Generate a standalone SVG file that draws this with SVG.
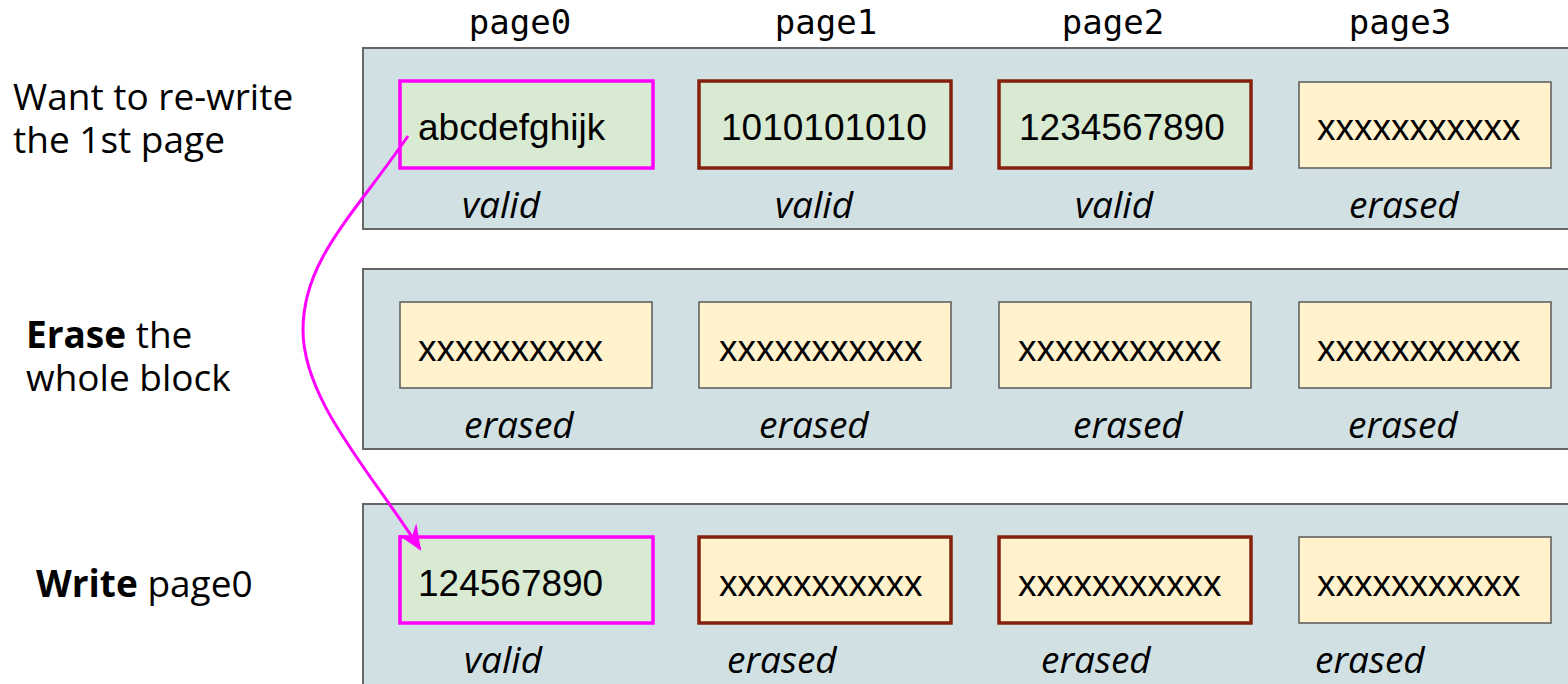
<svg xmlns="http://www.w3.org/2000/svg" width="1568" height="684" viewBox="0 0 1568 684">
<style>
.blk{fill:#d0e0e3;stroke:#666666;stroke-width:2}
.g{fill:#d9ead3}
.y{fill:#fff2cc}
.pk{stroke:#ff00ff;stroke-width:3.5}
.br{stroke:#85200c;stroke-width:3.5}
.gr{stroke:#595959;stroke-width:1.5}
.pt{font-family:"Liberation Sans",Arial,sans-serif;font-size:37px;fill:#000}
.st{font-family:"Open Sans",sans-serif;font-style:italic;font-size:37px;fill:#000}
.hd{font-family:"DejaVu Sans Mono",monospace;font-size:34px;fill:#000}
.lb{font-family:"Open Sans",sans-serif;font-size:37px;fill:#000}
.conn{fill:none;stroke:#ff00ff;stroke-width:3}
</style>
<defs>
<marker id="ah" markerUnits="userSpaceOnUse" markerWidth="30" markerHeight="30" refX="0" refY="0" viewBox="-24 -12 28 24" orient="auto">
<path d="M2,0 L-22,-10 L-14,0 L-22,10 Z" fill="#ff00ff"/>
</marker>
</defs>
<rect width="1568" height="684" fill="#ffffff"/>
<g id="headers">
<text class="hd" x="520" y="34" text-anchor="middle">page0</text>
<text class="hd" x="826" y="34" text-anchor="middle">page1</text>
<text class="hd" x="1113" y="34" text-anchor="middle">page2</text>
<text class="hd" x="1400" y="34" text-anchor="middle">page3</text>
</g>
<g id="labels">
<text class="lb" x="13" y="110">Want to re-write</text>
<text class="lb" x="13" y="153">the 1st page</text>
<text class="lb" x="26" y="348"><tspan font-weight="bold">Erase</tspan> the</text>
<text class="lb" x="26" y="391">whole block</text>
<text class="lb" x="36" y="597"><tspan font-weight="bold">Write</tspan> page0</text>
</g>
<g id="block1">
<rect class="blk" x="363" y="48" width="1220" height="181"/>
<g id="b1p0"><rect class="g pk" x="400" y="81" width="253" height="87"/><text class="pt" x="418" y="140">abcdefghijk</text><text class="st" x="462" y="218">valid</text></g>
<g id="b1p1"><rect class="g br" x="699" y="81" width="252" height="87"/><text class="pt" x="721" y="140">1010101010</text><text class="st" x="775" y="218">valid</text></g>
<g id="b1p2"><rect class="g br" x="999" y="81" width="252" height="87"/><text class="pt" x="1019" y="140">1234567890</text><text class="st" x="1075" y="218">valid</text></g>
<g id="b1p3"><rect class="y gr" x="1299" y="82" width="252" height="86"/><text class="pt" x="1317" y="140">xxxxxxxxxxx</text><text class="st" x="1349" y="218">erased</text></g>
</g>
<g id="block2">
<rect class="blk" x="363" y="269" width="1220" height="180"/>
<g id="b2p0"><rect class="y gr" x="400" y="302" width="252" height="86"/><text class="pt" x="418" y="361">xxxxxxxxxx</text><text class="st" x="464" y="438">erased</text></g>
<g id="b2p1"><rect class="y gr" x="699" y="302" width="252" height="86"/><text class="pt" x="719" y="361">xxxxxxxxxxx</text><text class="st" x="759" y="438">erased</text></g>
<g id="b2p2"><rect class="y gr" x="999" y="302" width="252" height="86"/><text class="pt" x="1018" y="361">xxxxxxxxxxx</text><text class="st" x="1073" y="438">erased</text></g>
<g id="b2p3"><rect class="y gr" x="1299" y="302" width="252" height="86"/><text class="pt" x="1317" y="361">xxxxxxxxxxx</text><text class="st" x="1348" y="438">erased</text></g>
</g>
<g id="block3">
<rect class="blk" x="363" y="504" width="1220" height="200"/>
<g id="b3p0"><rect class="g pk" x="400" y="537" width="253" height="86"/><text class="pt" x="418" y="596">124567890</text><text class="st" x="464" y="673">valid</text></g>
<g id="b3p1"><rect class="y br" x="699" y="537" width="252" height="86"/><text class="pt" x="719" y="596">xxxxxxxxxxx</text><text class="st" x="727" y="673">erased</text></g>
<g id="b3p2"><rect class="y br" x="999" y="537" width="252" height="86"/><text class="pt" x="1018" y="596">xxxxxxxxxxx</text><text class="st" x="1041" y="673">erased</text></g>
<g id="b3p3"><rect class="y gr" x="1299" y="537" width="252" height="86"/><text class="pt" x="1317" y="596">xxxxxxxxxxx</text><text class="st" x="1315" y="673">erased</text></g>
</g>
<g id="connectors">
<path class="conn" d="M408,136 C353,216 303,260 303,330 C303,400 370,471 420,549" marker-end="url(#ah)"/>
</g>
</svg>
